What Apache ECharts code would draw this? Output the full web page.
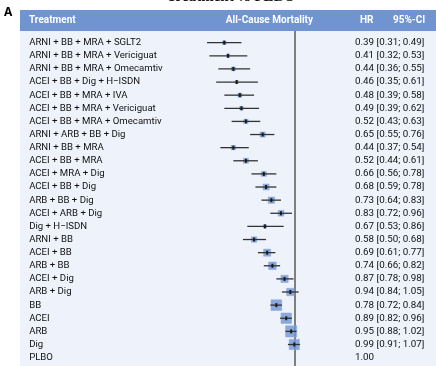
<!DOCTYPE html>
<html><head><meta charset="utf-8">
<script src="https://cdn.jsdelivr.net/npm/echarts@6/dist/echarts.min.js"></script>
<style>html,body{margin:0;padding:0;background:#fff}#c{width:436px;height:366px}</style>
</head><body><div id="c"></div>
<script>
const treatments = [
  'ARNI + BB + MRA + SGLT2','ARNI + BB + MRA + Vericiguat','ARNI + BB + MRA + Omecamtiv',
  'ACEI + BB + Dig + H\u2212ISDN','ACEI + BB + MRA + IVA','ACEI + BB + MRA + Vericiguat',
  'ACEI + BB + MRA + Omecamtiv','ARNI + ARB + BB + Dig','ARNI + BB + MRA','ACEI + BB + MRA',
  'ACEI + MRA + Dig','ACEI + BB + Dig','ARB + BB + Dig','ACEI + ARB + Dig','Dig + H\u2212ISDN',
  'ARNI + BB','ACEI + BB','ARB + BB','ACEI + Dig','ARB + Dig','BB','ACEI','ARB','Dig','PLBO'
];
const hr    = [0.39,0.41,0.44,0.46,0.48,0.49,0.52,0.65,0.44,0.52,0.66,0.68,0.73,0.83,0.67,0.58,0.69,0.74,0.87,0.94,0.78,0.89,0.95,0.99,1.00];
const ciLow = [0.31,0.32,0.36,0.35,0.39,0.39,0.43,0.55,0.37,0.44,0.56,0.59,0.64,0.72,0.53,0.50,0.61,0.66,0.78,0.84,0.72,0.82,0.88,0.91,null];
const ciHigh= [0.49,0.53,0.55,0.61,0.58,0.62,0.63,0.76,0.54,0.61,0.78,0.78,0.83,0.96,0.86,0.68,0.77,0.82,0.98,1.05,0.84,0.96,1.02,1.07,null];

const ciText = hr.map((h,i)=> ciLow[i]==null ? h.toFixed(2) :
  h.toFixed(2)+' ['+ciLow[i].toFixed(2)+'; '+ciHigh[i].toFixed(2)+']');

const FONT = 'Roboto';
const chart = echarts.init(document.getElementById('c'), null, {renderer:'canvas'});

const rows = treatments.map((t,i)=>[hr[i], t, ciLow[i], ciHigh[i]]).filter(r=>r[2]!=null);

chart.setOption({
  animation:false,
  textStyle:{fontFamily:FONT},
  graphic:[
    {type:'rect', z:-10, shape:{x:20,y:30,width:416,height:336}, style:{fill:'#eef2fa'}},
    {type:'rect', z:-9, shape:{x:20,y:10,width:416,height:21}, style:{fill:'#7094d0'}},
    {type:'line', z:-8, shape:{x1:295,y1:31,x2:295,y2:366}, style:{stroke:'#7f7f7f', lineWidth:2}},
    {type:'text', left:4, top:7, style:{text:'A', font:'bold 12px "Noto Sans"', fill:'#000'}},
    {type:'text', x:231, y:-10.5, style:{text:'Treatment vs PLBO', font:'bold 15px "Liberation Serif"', fill:'#111', align:'center', verticalAlign:'top'}},
    {type:'text', x:29, y:20.5, style:{text:'Treatment', font:'bold 10px '+FONT, fill:'#fff', verticalAlign:'middle'}},
    {type:'text', x:313, y:20.5, style:{text:'All-Cause Mortality', font:'bold 10px '+FONT, fill:'#fff', align:'right', verticalAlign:'middle'}},
    {type:'text', x:360, y:20.5, style:{text:'HR', font:'bold 10px '+FONT, fill:'#fff', verticalAlign:'middle'}},
    {type:'text', x:393, y:20.5, style:{text:'95%-CI', font:'bold 10px '+FONT, fill:'#fff', verticalAlign:'middle'}}
  ],
  grid:{left:174.15, right:127.3, top:36.1, bottom:1.8},
  xAxis:{type:'log', logBase:10, min:0.2, max:1.2, show:false},
  yAxis:[
    {type:'category', data:treatments, inverse:true,
     axisLine:{show:false}, axisTick:{show:false}, splitLine:{show:false},
     axisLabel:{interval:0, align:'left', margin:145, fontSize:9.6, color:'#111', fontFamily:FONT}},
    {type:'category', data:ciText, inverse:true, position:'right',
     axisLine:{show:false}, axisTick:{show:false}, splitLine:{show:false},
     axisLabel:{interval:0, align:'left', margin:46.3, fontSize:9.8, color:'#111', fontFamily:FONT}}
  ],
  series:[
    {type:'scatter', symbol:'rect', z:2,
     data: rows.map(r=>[r[0], r[1], r[2], r[3]]),
     symbolSize: v => 1.65/Math.log(v[3]/v[2]),
     itemStyle:{color:'#6f96d6', borderColor:'rgba(140,170,225,0.7)', borderWidth:1}},
    {type:'custom', z:3,
     data: rows.map(r=>[r[0], r[1], r[2], r[3]]),
     renderItem:(params, api)=>{
       const lo = api.coord([api.value(2), api.value(1)]);
       const hi = api.coord([api.value(3), api.value(1)]);
       const c = api.coord([api.value(0), api.value(1)]);
       return {type:'group', children:[
         {type:'line', shape:{x1:lo[0], y1:lo[1], x2:hi[0], y2:hi[1]},
          style:{stroke:'#333', lineWidth:1.3}},
         {type:'rect', shape:{x:c[0]-1, y:c[1]-2, width:2, height:4},
          style:{fill:'#1a1a1a'}}
       ]};
     }}
  ]
});
</script></body></html>
